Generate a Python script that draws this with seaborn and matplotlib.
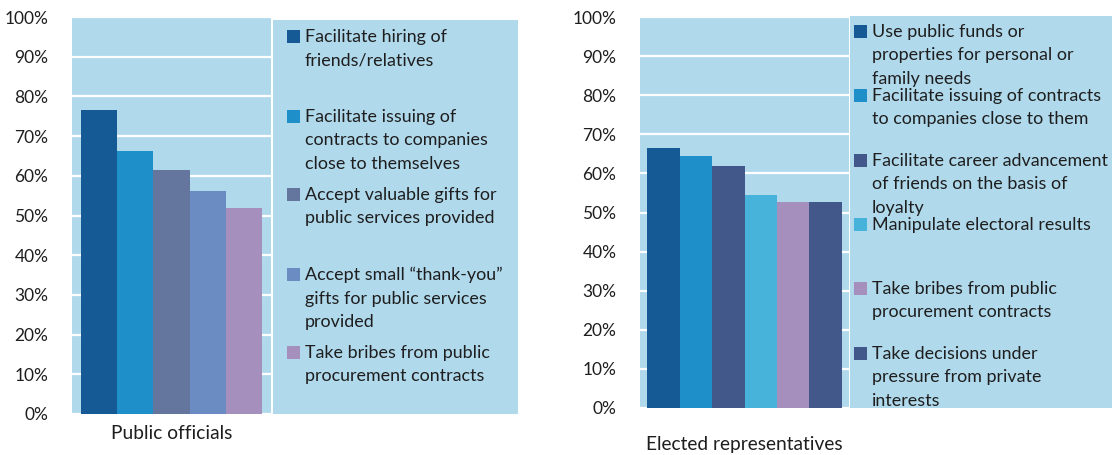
import matplotlib
matplotlib.use("Agg")
import matplotlib.pyplot as plt
from matplotlib.patches import Rectangle
import seaborn as sns
import pandas as pd

# Survey shares (%) of respondents for each corrupt practice
officials_items = [
    "Facilitate hiring of\nfriends/relatives",
    "Facilitate issuing of\ncontracts to companies\nclose to themselves",
    "Accept valuable gifts for\npublic services provided",
    "Accept small \u201cthank-you\u201d\ngifts for public services\nprovided",
    "Take bribes from public\nprocurement contracts",
]
officials_values = [76.6, 66.2, 61.5, 56.2, 52.0]
officials_colors = ["#155A94", "#1F8FC9", "#64769E", "#6A8CC3", "#A58FBC"]

elected_items = [
    "Use public funds or\nproperties for personal or\nfamily needs",
    "Facilitate issuing of contracts\nto companies close to them",
    "Facilitate career advancement\nof friends on the basis of\nloyalty",
    "Manipulate electoral results",
    "Take bribes from public\nprocurement contracts ",
    "Take decisions under\npressure from private\ninterests",
]
elected_values = [66.4, 64.4, 61.8, 54.4, 52.6, 52.6]
elected_colors = ["#155A94", "#1F8FC9", "#42578A", "#47B2DA", "#A58FBC", "#42578A"]

groups = ["Public officials", "Elected representatives"]
yticks = [0, 10, 20, 30, 40, 50, 60, 70, 80, 90, 100]

BG = "#B0D9EC"
TXT = "#1E1E1E"
FONT = "Lato"

sns.set_theme(style="white")
plt.rcParams["font.family"] = [FONT, "DejaVu Sans"]

W, H = 1112, 455
fig = plt.figure(figsize=(W / 100, H / 100), dpi=100)


def px_axes(x0, y0, x1, y1):
    return fig.add_axes([x0 / W, 1 - y1 / H, (x1 - x0) / W, (y1 - y0) / H])


def bar_panel(rect, group, items, values, colors, width, label_pad):
    ax = px_axes(*rect)
    df = pd.DataFrame({"group": group, "item": items, "value": values})
    sns.barplot(data=df, x="group", y="value", hue="item", hue_order=items,
                palette=colors, width=width, gap=0, saturation=1,
                legend=False, errorbar=None, ax=ax, zorder=3)
    for p in ax.patches:
        p.set_edgecolor("none")
    ax.set_facecolor(BG)
    ax.set_ylim(0, 100)
    ax.set_yticks(yticks)
    ax.set_yticklabels([f"{v}%" for v in yticks])
    ax.set_axisbelow(True)
    ax.yaxis.grid(True, color="white", lw=1.6)
    ax.xaxis.grid(False)
    for s in ax.spines.values():
        s.set_visible(False)
    ax.set_xlabel("")
    ax.set_ylabel("")
    ax.tick_params(axis="y", length=0, pad=17, labelsize=12.5, labelcolor=TXT)
    ax.tick_params(axis="x", length=0, pad=label_pad, labelsize=13.8, labelcolor=TXT)
    return ax


def legend_box(rect, items, colors, slots, mx, tx, msize):
    x0, y0, x1, y1 = rect
    lax = px_axes(x0, y0, x1, y1)
    lax.set_xlim(0, x1 - x0)
    lax.set_ylim(y1 - y0, 0)
    lax.set_facecolor(BG)
    lax.set_xticks([])
    lax.set_yticks([])
    for s in lax.spines.values():
        s.set_visible(False)
    for label, color, yc in zip(items, colors, slots):
        lax.add_patch(Rectangle((mx, yc - msize / 2), msize, msize,
                                facecolor=color, edgecolor="none"))
        lax.text(tx, yc - 7, label.strip(), ha="left", va="top",
                 fontsize=12.9, color=TXT, linespacing=1.56)
    return lax


bar_panel((72, 17, 271, 414), groups[0], officials_items, officials_values,
          officials_colors, 0.91, 8)
legend_box((273, 20, 518, 414), officials_items, officials_colors,
           [16, 96, 174, 254, 332], 14, 32, 13)

bar_panel((640, 17, 849, 408), groups[1], elected_items, elected_values,
          elected_colors, 0.93, 20)
legend_box((850, 16, 1112, 408), elected_items, elected_colors,
           [15, 79, 144, 208, 272, 337], 4, 22, 13)

fig.savefig("out.png", dpi=100, facecolor="white")
